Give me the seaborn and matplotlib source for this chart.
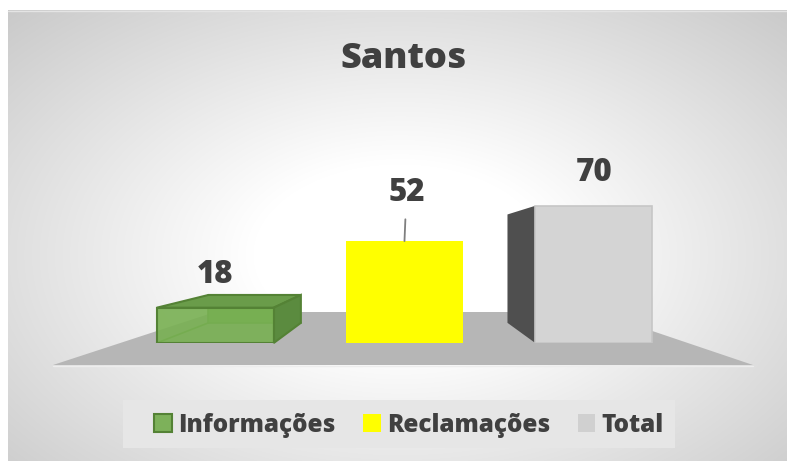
import numpy as np
import seaborn as sns
import matplotlib.pyplot as plt
from matplotlib.patches import Polygon, Patch, Rectangle
from matplotlib.lines import Line2D

sns.set_theme(style='white')
plt.rcParams['font.family'] = ['Open Sans', 'DejaVu Sans']

# Data
categorias = ['Informações', 'Reclamações', 'Total']
valores = [18, 52, 70]
cores = ['#7db15a', '#ffff00', '#d4d4d4']
titulo = 'Santos'

W, H = 787, 461
fig = plt.figure(figsize=(W / 100, H / 100), dpi=100)
fig.patch.set_facecolor('white')

# background axes in pixel coords (y down)
bg = fig.add_axes([0, 0, 1, 1])
bg.set_xlim(0, W)
bg.set_ylim(H, 0)
bg.axis('off')

# radial gradient background
yy, xx = np.mgrid[11:H, 8:W]
r = np.sqrt(((xx - 400) / 420.0) ** 2 + ((yy - 255) / 260.0) ** 2)
shade = 255 - 55 * np.clip((r - 0.35) / 1.0, 0, 1)
img = np.dstack([shade, shade, shade]) / 255.0
bg.imshow(img, extent=(8, W, H, 11), aspect='auto', interpolation='bilinear')
bg.plot([8, W], [11.5, 11.5], color='#e4e4e4', lw=1)

# floor
bg.add_patch(Polygon([(53, 365), (753, 365), (596, 312), (215, 312)],
                     closed=True, facecolor='#b6b6b6', edgecolor='none'))
bg.plot([53, 753], [366, 366], color='#ededed', lw=1)

# legend box
bg.add_patch(Rectangle((123, 400), 552, 48, facecolor='#e6e6e6', edgecolor='none'))

# data axes
ax = fig.add_axes([120.6 / W, (H - 343) / H, 567.75 / W, 156.8 / H])
ax.patch.set_alpha(0)
sns.barplot(x=categorias, y=valores, hue=categorias, palette=cores,
            width=0.618, saturation=1, legend=False, ax=ax)
ax.set_ylim(0, 80)
ax.set_xlim(-0.5, 2.5)
ax.axis('off')

to_px = ax.transData + bg.transData.inverted()
vp = np.array([403.0, 247.0])
s = 0.79


def back(p):
    return vp + s * (np.asarray(p) - vp)


bars = sorted([p for p in ax.patches if p.get_height() > 0], key=lambda p: p.get_x())
for i, bar in enumerate(bars):
    x0, x1 = bar.get_x(), bar.get_x() + bar.get_width()
    h = bar.get_height()
    ftl, ftr = to_px.transform((x0, h)), to_px.transform((x1, h))
    fbl, fbr = to_px.transform((x0, 0)), to_px.transform((x1, 0))
    btl, btr, bbl, bbr = back(ftl), back(ftr), back(fbl), back(fbr)
    kw = dict(transform=bg.transData, clip_on=False, closed=True)
    if i == 0:
        ec = '#548235'
        ax.add_patch(Polygon([btl, btr, bbr, bbl], facecolor='#76aa52', edgecolor='none', zorder=1, **kw))
        for a, b in [(btl, bbl), (bbl, bbr), (fbl, bbl)]:
            ax.add_line(Line2D([a[0], b[0]], [a[1], b[1]], color='#5f9140', lw=1.2,
                               transform=bg.transData, zorder=1.5))
        ax.add_patch(Polygon([ftl, ftr, btr, btl], facecolor='#6a9c4a', edgecolor=ec, lw=1.5, zorder=2, **kw))
        ax.add_patch(Polygon([ftr, btr, bbr, fbr], facecolor='#5b8b3f', edgecolor=ec, lw=1.5, zorder=2, **kw))
        bar.set_facecolor((0.47, 0.69, 0.32, 0.9))
        bar.set_edgecolor(ec)
        bar.set_linewidth(1.5)
        bar.set_zorder(3)
    elif i == 2:
        ax.add_patch(Polygon([ftl, btl, bbl, fbl], facecolor='#4f4f4f', edgecolor='none', zorder=1, **kw))
        bar.set_edgecolor('#c6c6c6')
        bar.set_linewidth(1.2)
        bar.set_zorder(3)
    else:
        bar.set_edgecolor('none')
        bar.set_zorder(3)

# data labels
lab = dict(ha='center', va='center', fontsize=22.5, fontweight='heavy', color='#404040',
           textcoords='offset pixels', annotation_clip=False)
for i, v in enumerate(valores):
    if i == 1:
        ax.annotate(str(v), xy=(i, v), xytext=(2, 48),
                    arrowprops=dict(arrowstyle='-', color='#7f7f7f', lw=1.3,
                                    shrinkA=5, shrinkB=0), **lab)
    else:
        ax.annotate(str(v), xy=(i, v), xytext=(0, 33), **lab)

# title
fig.text(404 / W, 1 - 59 / H, titulo, ha='center', va='center',
         fontsize=26, fontweight='heavy', color='#404040')

# legend
handles = [Patch(facecolor='#7db15a', edgecolor='#548235', lw=1.5),
           Patch(facecolor='#ffff00', edgecolor='none'),
           Patch(facecolor='#d0d0d0', edgecolor='none')]
leg = fig.legend(handles, categorias, loc='center', bbox_to_anchor=(409 / W, 1 - 425 / H),
                 ncol=3, frameon=False, prop=dict(size=17.5, weight='heavy'),
                 handlelength=0.72, handleheight=0.72, handletextpad=0.25,
                 columnspacing=1.15, borderpad=0.3)
for t in leg.get_texts():
    t.set_color('#404040')

fig.savefig('out.png', dpi=100)
